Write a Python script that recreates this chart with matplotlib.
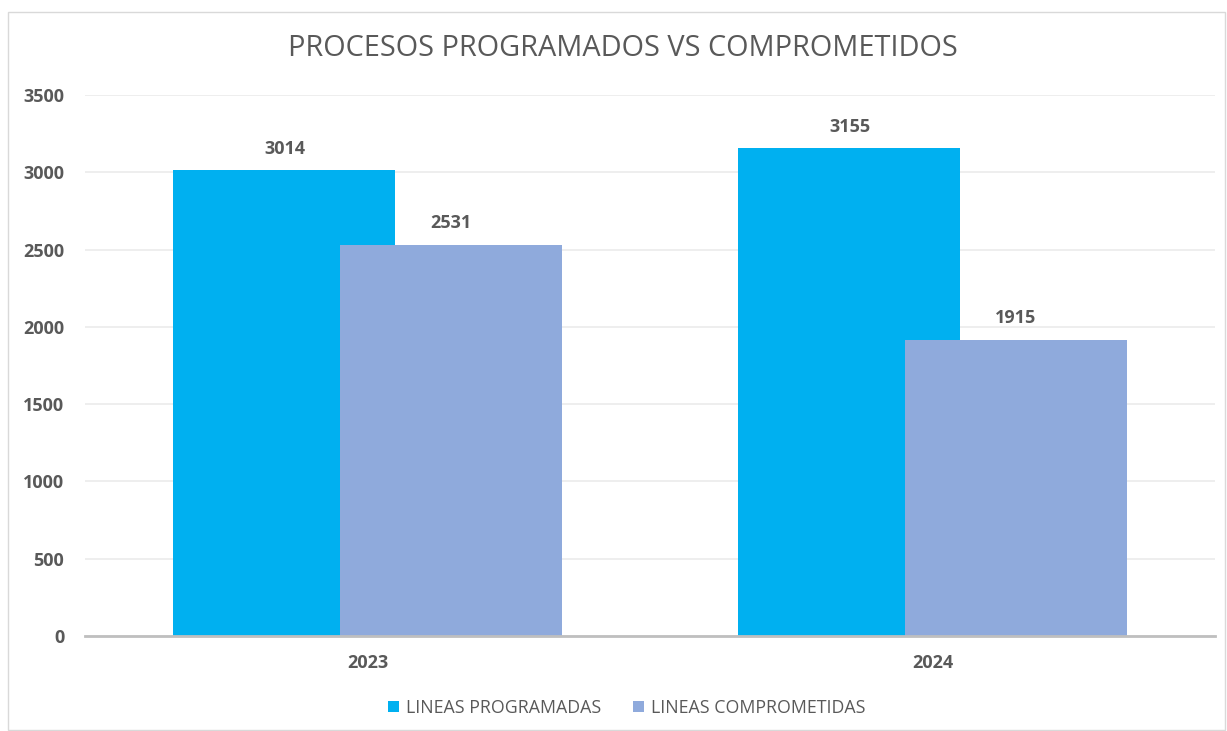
import matplotlib
matplotlib.use("Agg")
import matplotlib.pyplot as plt
from matplotlib.patches import Rectangle
import numpy as np

# data
years = ['2023', '2024']
programadas = [3014, 3155]
comprometidas = [2531, 1915]
series_names = ['LINEAS PROGRAMADAS', 'LINEAS COMPROMETIDAS']
colors = ['#00B0F0', '#8FAADC']
yticks = [0, 500, 1000, 1500, 2000, 2500, 3000, 3500]

plt.rcParams['font.family'] = ['Open Sans', 'DejaVu Sans']
text_color = '#595959'

fig = plt.figure(figsize=(12.27, 7.31), dpi=100)
# chart border
fig.patches.append(Rectangle((8 / 1227, 0.002), 1217 / 1227, 1 - 12 / 731 - 0.002,
                             transform=fig.transFigure, fill=False,
                             edgecolor='#D9D9D9', linewidth=1.0))

ax = fig.add_axes([85 / 1227, 1 - 636 / 731, 1130 / 1227, 541 / 731])

x = np.arange(len(years))
width = 0.393
offset = 0.147
b1 = ax.bar(x - offset, programadas, width, color=colors[0], label=series_names[0], zorder=2)
b2 = ax.bar(x + offset, comprometidas, width, color=colors[1], label=series_names[1], zorder=3)

for bars in (b1, b2):
    for rect in bars:
        h = rect.get_height()
        ax.annotate(str(int(h)), (rect.get_x() + rect.get_width() / 2, h),
                    xytext=(0, 9), textcoords='offset points', ha='center', va='bottom',
                    fontsize=13, fontweight='bold', color=text_color)

ax.set_xlim(-0.5, 1.5)
ax.set_ylim(0, 3500)
ax.set_yticks(yticks)
ax.set_xticks(x)
ax.set_xticklabels(years)
for lbl in ax.get_xticklabels() + ax.get_yticklabels():
    lbl.set_fontweight('bold')
    lbl.set_color(text_color)
    lbl.set_fontsize(13)
ax.tick_params(axis='both', length=0)
ax.tick_params(axis='y', pad=15)
ax.tick_params(axis='x', pad=13)

ax.grid(axis='y', color='#EBEBEB', linewidth=1.2, zorder=0)
ax.set_axisbelow(True)
for side in ['top', 'right', 'left']:
    ax.spines[side].set_visible(False)
ax.spines['bottom'].set_color('#BFBFBF')
ax.spines['bottom'].set_linewidth(2)
ax.spines['bottom'].set_zorder(4)

fig.text(623 / 1227, 1 - 49 / 731, 'PROCESOS PROGRAMADOS VS COMPROMETIDOS',
         ha='center', va='center', fontsize=20.8, color=text_color)

fig.legend(handles=[b1, b2], labels=series_names, loc='center',
           bbox_to_anchor=(627 / 1227, 1 - 708 / 731), ncol=2, frameon=False,
           fontsize=12.8, labelcolor=text_color, handlelength=0.6, handleheight=0.6,
           handletextpad=0.4, columnspacing=1.8)

fig.savefig('out.png', dpi=100)
plt.close()
